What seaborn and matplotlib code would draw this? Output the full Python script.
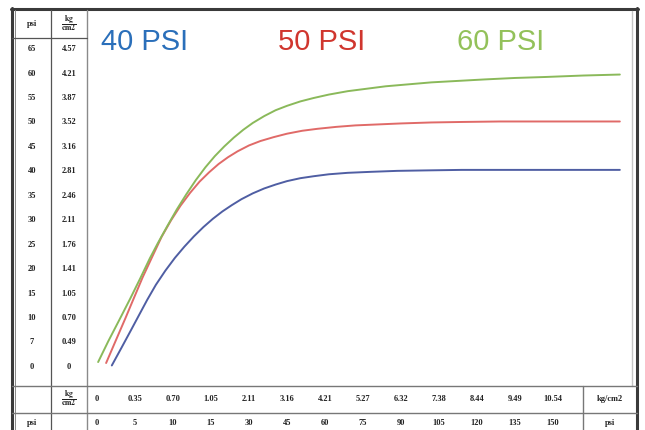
import matplotlib
matplotlib.use("Agg")
import matplotlib.pyplot as plt
import matplotlib.transforms as mtransforms
from matplotlib.lines import Line2D
import pandas as pd
import seaborn as sns

# Curve readings: x in bottom-table column units (0 = first column), y in psi
pos_40 = [0.39, 0.65, 0.9, 1.12, 1.32, 1.55, 1.8, 2.05, 2.3, 2.55, 2.8, 3.05,
          3.3, 3.55, 3.8, 4.1, 4.4, 4.7, 5.0, 5.35, 5.7, 6.1, 6.6, 7.2, 7.9,
          8.7, 9.6, 11.0, 13.76]
psi_40 = [0.3, 4.0, 7.6, 10.8, 13.7, 16.8, 19.7, 22.3, 24.6, 26.7, 28.6, 30.3,
          31.8, 33.1, 34.3, 35.5, 36.5, 37.3, 38.0, 38.6, 39.0, 39.4, 39.7,
          39.9, 40.1, 40.2, 40.3, 40.3, 40.3]

pos_50 = [0.24, 0.5, 0.75, 0.95, 1.2, 1.47, 1.7, 1.95, 2.2, 2.45, 2.7, 2.95,
          3.2, 3.45, 3.7, 4.0, 4.3, 4.65, 5.0, 5.4, 5.8, 6.3, 6.8, 7.4, 8.0,
          8.8, 9.6, 10.6, 12.0, 13.76]
psi_50 = [0.8, 5.5, 10.0, 13.7, 18.3, 22.8, 26.6, 30.0, 33.0, 35.6, 37.9, 39.8,
          41.5, 42.9, 44.1, 45.3, 46.2, 47.0, 47.7, 48.3, 48.7, 49.1, 49.4,
          49.6, 49.8, 50.0, 50.1, 50.2, 50.2, 50.2]

pos_60 = [0.03, 0.3, 0.6, 0.87, 1.15, 1.39, 1.6, 1.85, 2.1, 2.35, 2.6, 2.85,
          3.1, 3.35, 3.6, 3.85, 4.1, 4.4, 4.7, 5.0, 5.35, 5.7, 6.1, 6.6, 7.1,
          7.6, 8.2, 8.8, 9.5, 10.2, 11.0, 11.8, 12.8, 13.76]
psi_60 = [1.0, 5.3, 9.8, 13.9, 18.3, 22.2, 25.3, 28.8, 32.2, 35.3, 38.2, 40.8,
          43.1, 45.1, 46.9, 48.5, 49.9, 51.3, 52.5, 53.4, 54.3, 55.0, 55.7,
          56.4, 56.9, 57.4, 57.8, 58.2, 58.5, 58.8, 59.1, 59.3, 59.6, 59.8]

series_names = ["40 PSI", "50 PSI", "60 PSI"]
label_colors = ["#2a6fba", "#d0362e", "#93c15a"]
line_colors = ["#4f5ea3", "#e06a68", "#8ab95a"]

# table labels
row_values = [0, 5, 10, 15, 20, 25, 30, 35, 40, 45, 50, 55, 60, 65]
psi_rows = ["0", "7", "10", "15", "20", "25", "30", "35", "40", "45", "50",
            "55", "60", "65"]
kg_rows = ["0", "0.49", "0.70", "1.05", "1.41", "1.76", "2.11", "2.46", "2.81",
           "3.16", "3.52", "3.87", "4.21", "4.57"]
kg_cols = ["0", "0.35", "0.70", "1.05", "2.11", "3.16", "4.21", "5.27", "6.32",
           "7.38", "8.44", "9.49", "10.54"]
psi_cols = ["0", "5", "10", "15", "30", "45", "60", "75", "90", "105", "120",
            "135", "150"]

df = pd.concat([
    pd.DataFrame({"pos": pos_40, "psi": psi_40, "series": series_names[0]}),
    pd.DataFrame({"pos": pos_50, "psi": psi_50, "series": series_names[1]}),
    pd.DataFrame({"pos": pos_60, "psi": psi_60, "series": series_names[2]}),
])

sns.set_theme(style="white")
plt.rcParams["font.family"] = ["Liberation Serif", "DejaVu Serif"]
plt.rcParams["mathtext.fontset"] = "stix"

W, H = 645, 430


def fx(px):
    return px / W


def fy(py):
    return 1 - py / H


fig = plt.figure(figsize=(6.45, 4.3), dpi=100)
ax = fig.add_axes([fx(87), fy(386), (632 - 87) / W, (386 - 10) / H])

sns.lineplot(
    data=df,
    x="pos",
    y="psi",
    hue="series",
    palette=dict(zip(series_names, line_colors)),
    estimator=None,
    sort=False,
    legend=False,
    linewidth=1.4,
    ax=ax
)

ax.set_xlim(-0.263, 14.08)
ax.set_ylim(-3.9, 73)
ax.axis("off")

# series labels
for name, color, left in zip(series_names, label_colors, [101, 278, 457]):
    fig.text(fx(left), fy(50), name, color=color, fontsize=21,
             family="Liberation Sans", va="baseline", ha="left")

# table frame
def hline(py, x0, x1, color="#666666", lw=0.9):
    fig.add_artist(Line2D([fx(x0), fx(x1)], [fy(py), fy(py)], color=color,
                          lw=lw, transform=fig.transFigure))


def vline(px, y0, y1, color="#666666", lw=0.9):
    fig.add_artist(Line2D([fx(px), fx(px)], [fy(y0), fy(y1)], color=color,
                          lw=lw, transform=fig.transFigure))


hline(9, 11, 638, color="#3a3a3a", lw=2.2)
vline(12, 8, 430, color="#3a3a3a", lw=2.2)
vline(637, 8, 430, color="#3a3a3a", lw=2.2)
vline(15, 10, 430, color="#888888", lw=0.7)
vline(632, 11, 386, color="#c4c4c4", lw=1.0)
vline(51, 10, 430, color="#555555", lw=0.9)
vline(87, 10, 430, color="#8a8a8a", lw=1.0)
hline(38, 12, 87, color="#555555", lw=0.9)
hline(386, 12, 637, color="#777777", lw=1.0)
hline(413, 12, 637, color="#777777", lw=1.0)
vline(583, 386, 430, color="#777777", lw=1.0)

small = dict(fontsize=6, fontweight="bold", ha="center", va="center",
             color="#222222")
frac = r"$\mathbf{\frac{kg}{cm2}}$"

# header cells
fig.text(fx(32), fy(24), "psi", **small)
fig.text(fx(69), fy(24), frac, fontsize=8, ha="center", va="center",
         color="#222222")

# left rows
trans_y = mtransforms.blended_transform_factory(fig.transFigure, ax.transData)
for v, p, k in zip(row_values, psi_rows, kg_rows):
    ax.text(fx(32), v, p, transform=trans_y, **small)
    ax.text(fx(69), v, k, transform=trans_y, **small)

# bottom rows
trans_x = mtransforms.blended_transform_factory(ax.transData, fig.transFigure)
for i, (k, p) in enumerate(zip(kg_cols, psi_cols)):
    ax.text(i, fy(399), k, transform=trans_x, **small)
    ax.text(i, fy(423), p, transform=trans_x, **small)

fig.text(fx(69), fy(399), frac, fontsize=8, ha="center", va="center",
         color="#222222")
fig.text(fx(32), fy(423), "psi", **small)
fig.text(fx(610), fy(399), "kg/cm2", **small)
fig.text(fx(610), fy(423), "psi", **small)

fig.savefig("out.png", dpi=100)
